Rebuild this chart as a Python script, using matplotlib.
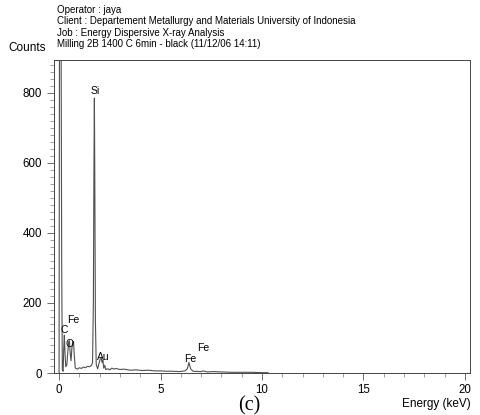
import matplotlib
matplotlib.use("Agg")
import matplotlib.pyplot as plt
from matplotlib.ticker import MultipleLocator

plt.rcParams['font.family'] = ['Liberation Sans', 'DejaVu Sans']

# spectrum (energy in keV, counts)
energy = [0.0, 0.02, 0.05, 0.10, 0.13, 0.16, 0.20, 0.23, 0.26, 0.29, 0.33,
          0.38, 0.43, 0.47, 0.51, 0.55, 0.59, 0.63, 0.67, 0.71, 0.75, 0.80,
          0.90, 1.00, 1.10, 1.20, 1.30, 1.40, 1.50, 1.60, 1.65, 1.69, 1.72,
          1.74, 1.76, 1.79, 1.83, 1.90, 1.97, 2.03, 2.08, 2.12, 2.16, 2.20,
          2.25, 2.30, 2.40, 2.50, 2.60, 2.70, 2.80, 3.00, 3.20, 3.50, 3.80,
          4.10, 4.40, 4.70, 5.00, 5.30, 5.60, 5.90, 6.20, 6.32, 6.40, 6.48,
          6.60, 7.00, 7.10, 7.30, 7.60, 8.00, 8.50, 9.00, 9.50, 10.00, 10.30]
counts = [0, 950, 950, 950, 300, 10, 5, 70, 108, 60, 18,
          22, 60, 88, 92, 55, 35, 70, 88, 90, 50, 14,
          11, 15, 13, 17, 15, 19, 18, 22, 30, 200, 600,
          785, 560, 150, 25, 12, 28, 40, 42, 30, 36, 14,
          22, 10, 12, 9, 14, 11, 13, 10, 11, 8, 9,
          7, 8, 6, 6, 5, 5, 4, 6, 12, 30, 12,
          5, 4, 6, 3, 4, 3, 2, 2, 2, 1, 1]

# peak labels: element, energy, counts
peak_names = ['Si', 'C', 'Fe', 'O', 'Au', 'Fe', 'Fe']
peak_x = [1.77, 0.26, 0.72, 0.52, 2.20, 6.45, 7.10]
peak_y = [805, 122, 150, 84, 46, 40, 72]

header = ['Operator : jaya',
          'Client : Departement Metallurgy and Materials University of Indonesia',
          'Job : Energy Dispersive X-ray Analysis',
          'Milling 2B 1400 C 6min - black (11/12/06 14:11)']

fig = plt.figure(figsize=(4.81, 4.15), dpi=100)
ax = fig.add_axes([54 / 481, 42 / 415, 416 / 481, 313 / 415])

ax.plot(energy, counts, color='#505050', lw=0.8)

for name, x, y in zip(peak_names, peak_x, peak_y):
    ax.text(x, y, name, fontsize=7.5, ha='center', va='center')

ax.set_xlim(-0.25, 20.25)
ax.set_ylim(0, 894)
ax.xaxis.set_major_locator(MultipleLocator(5))
ax.xaxis.set_minor_locator(MultipleLocator(1))
ax.yaxis.set_major_locator(MultipleLocator(200))
ax.yaxis.set_minor_locator(MultipleLocator(20))
ax.tick_params(which='major', length=5, width=0.6, labelsize=8.3, color='#555555')
ax.tick_params(which='minor', length=3, width=0.5, color='#777777')
ax.tick_params(axis='x', pad=3)
for sp in ax.spines.values():
    sp.set_linewidth(0.7)
    sp.set_color('#444444')

for i, line in enumerate(header):
    fig.text(57 / 481, 1 - (10 + 11.3 * i) / 415, line, fontsize=7, va='center')
fig.text(8 / 481, 1 - 48 / 415, 'Counts', fontsize=8.5, va='center')
fig.text(471 / 481, 1 - 404 / 415, 'Energy (keV)', fontsize=8.5, ha='right', va='center')
fig.text(249 / 481, 1 - 406 / 415, '(c)', fontsize=14.5, ha='center', va='center',
         family='Liberation Serif')

fig.savefig('out.png', dpi=100)
